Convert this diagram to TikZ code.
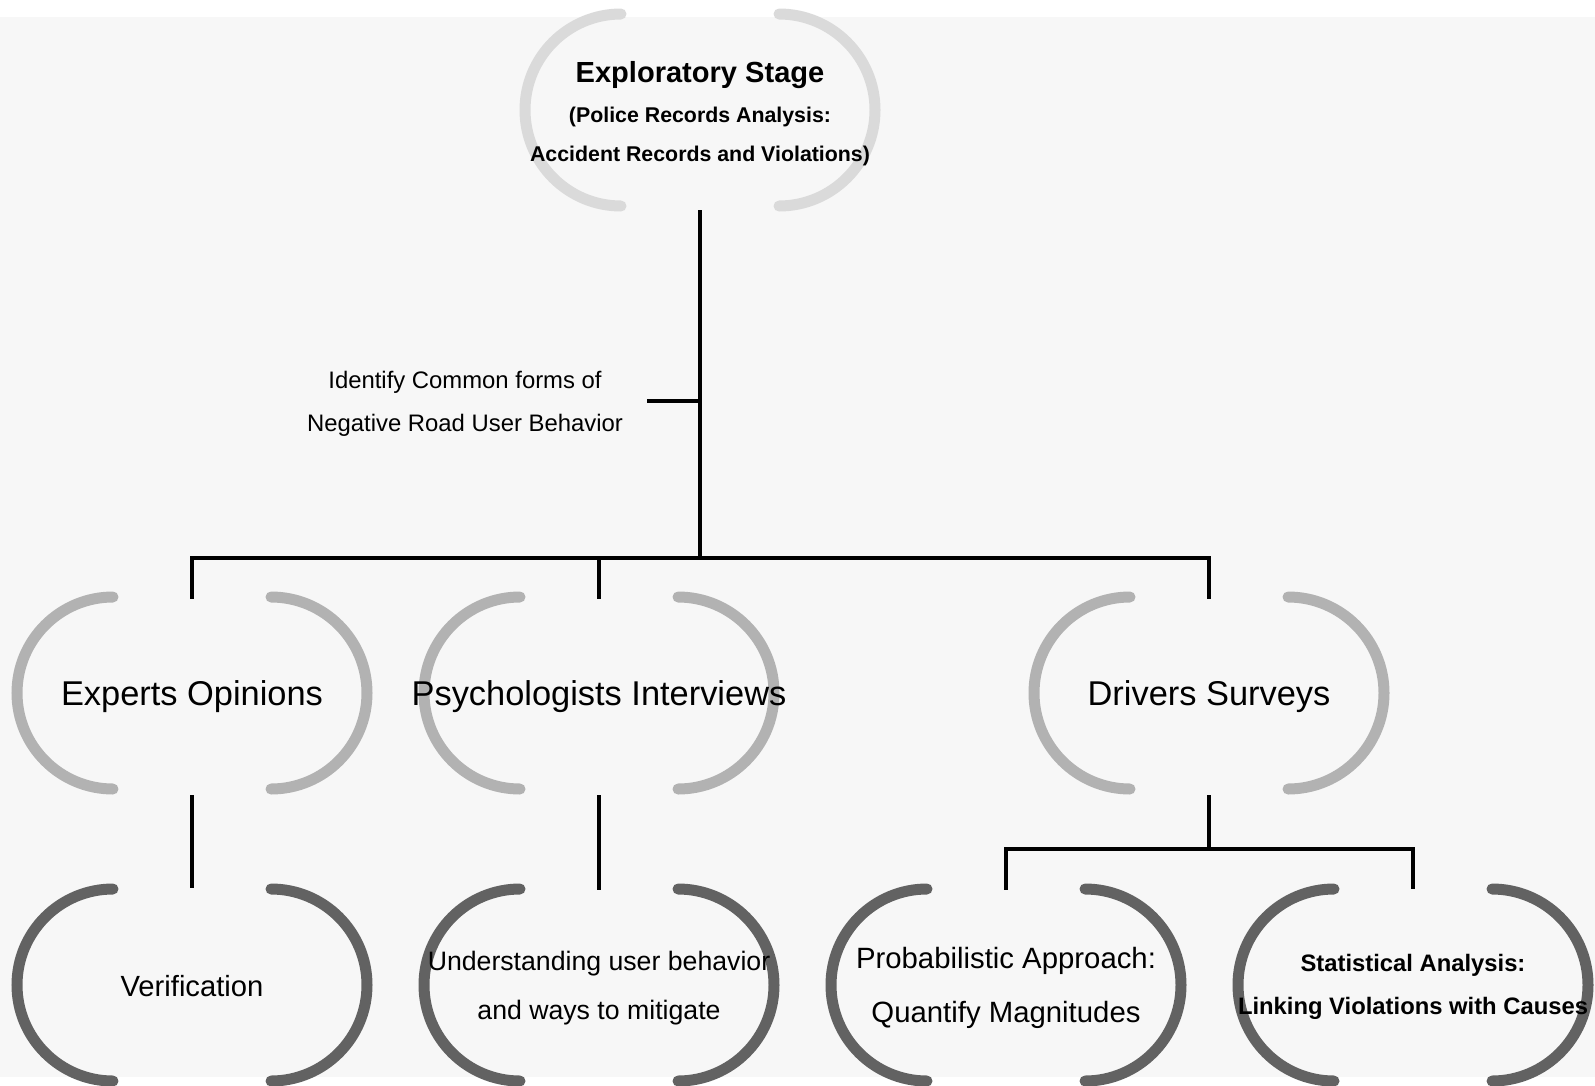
\documentclass[tikz,border=0pt]{standalone}
\usepackage{fontspec}
\setmainfont{Liberation Sans}
\definecolor{bggray}{HTML}{F7F7F7}
\definecolor{arcA}{HTML}{DADADA}
\definecolor{arcB}{HTML}{B2B2B2}
\definecolor{arcC}{HTML}{626262}
\pgfdeclarelayer{bglayer}
\pgfdeclarelayer{arclayer}
\pgfsetlayers{bglayer,arclayer,main}
% #1 node name, #2 colour, #3 vertical offset of the outline centre (pt, upwards)
\newcommand\capsarcs[3]{%
  \draw[capline,draw=#2] ([xshift=-59.25pt,yshift=72pt+#3]#1.center) arc[start angle=90,end angle=270,radius=72pt];
  \draw[capline,draw=#2] ([xshift=59.25pt,yshift=72pt+#3]#1.center) arc[start angle=90,end angle=-90,radius=72pt];
}
\begin{document}
\begin{tikzpicture}[x=0.75pt,y=-0.75pt,
  every node/.style={inner sep=0pt,outer sep=0pt,align=center,text=black},
  capsule/.style={minimum width=200pt,minimum height=150pt},
  capline/.style={line width=8.25pt,line cap=round},
  conn/.style={line width=2.4pt,draw=black,line cap=rect}]
\useasboundingbox (0,0) rectangle (1595,1085);
\clip (0,0) rectangle (1595,1085);
\begin{pgfonlayer}{bglayer}
\fill[bggray] (0,17) rectangle (1595,1077);
\end{pgfonlayer}

% nodes
\node[capsule,minimum height=147pt,font=\bfseries\fontsize{16}{29.5}\selectfont] (top) at (700,114)
  {{\fontsize{21.8}{29.5}\selectfont Exploratory Stage}\\(Police Records Analysis:\\Accident Records and Violations)};
\node[font=\fontsize{17.9}{32.25}\selectfont,inner xsep=19pt] (lab) at (465,404)
  {Identify Common forms of\\Negative Road User Behavior};

\node[capsule,font=\fontsize{25.8}{30}\selectfont] (exp) at (192,697) {Experts Opinions};
\node[capsule,font=\fontsize{25.8}{30}\selectfont] (psy) at (599,697) {Psychologists Interviews};
\node[capsule,font=\fontsize{25.8}{30}\selectfont] (drv) at (1209,697) {Drivers Surveys};

\node[capsule,font=\fontsize{21.9}{30}\selectfont] (ver) at (192,986) {Verification};
\node[capsule,font=\fontsize{20}{36.75}\selectfont] (und) at (599,988) {Understanding user behavior\\and ways to mitigate};
\node[capsule,font=\fontsize{22}{40.5}\selectfont] (pro) at (1006,988) {Probabilistic Approach:\\Quantify Magnitudes};
\node[capsule,font=\bfseries\fontsize{17.85}{32.25}\selectfont] (sta) at (1413,987) {Statistical Analysis:\\Linking Violations with Causes};

% capsule outlines, behind the texts
\begin{pgfonlayer}{arclayer}
\capsarcs{top}{arcA}{3pt}
\capsarcs{exp}{arcB}{3pt}
\capsarcs{psy}{arcB}{3pt}
\capsarcs{drv}{arcB}{3pt}
\capsarcs{ver}{arcC}{0.75pt}
\capsarcs{und}{arcC}{2.25pt}
\capsarcs{pro}{arcC}{2.25pt}
\capsarcs{sta}{arcC}{1.5pt}
\end{pgfonlayer}

% connectors
\coordinate (bar) at (700,558);
\coordinate (bar2) at (1209,849);
\draw[conn] (top.south) -- (top.south |- bar);
\draw[conn] ([yshift=2.25pt]lab.east) -- ([yshift=2.25pt]lab.east -| top.south);
\draw[conn] (exp.north |- bar) -- (drv.north |- bar);
\draw[conn] (exp.north |- bar) -- (exp.north);
\draw[conn] (psy.north |- bar) -- (psy.north);
\draw[conn] (drv.north |- bar) -- (drv.north);
\draw[conn] (exp.south) -- (ver.north);
\draw[conn] (psy.south) -- (und.north);
\draw[conn] (drv.south) -- (drv.south |- bar2);
\draw[conn] (pro.north |- bar2) -- (sta.north |- bar2);
\draw[conn] (pro.north |- bar2) -- (pro.north);
\draw[conn] (sta.north |- bar2) -- (sta.north);
\end{tikzpicture}
\end{document}
